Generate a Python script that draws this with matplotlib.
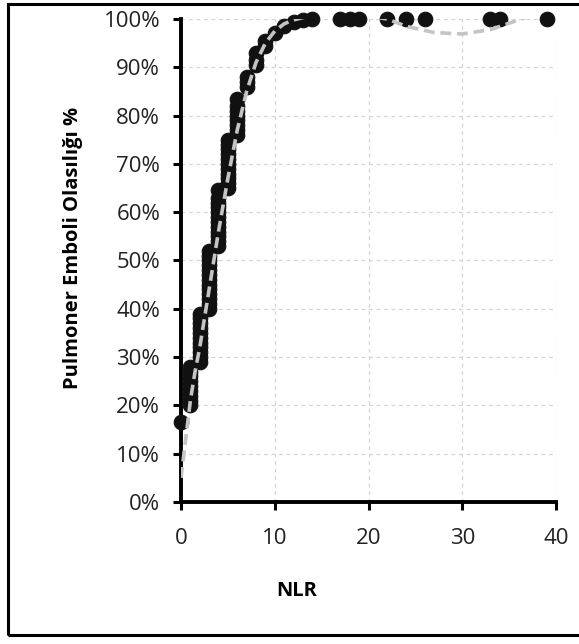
import matplotlib.pyplot as plt
from matplotlib.patches import Rectangle
from matplotlib.ticker import PercentFormatter

# NLR değerleri ve PE olasılıkları
nlr = ([0] + [1] * 9 + [2] * 11 + [3] * 13 + [4] * 12 + [5] * 11 + [6] * 8
       + [7] * 3 + [8] * 3 + [9] * 2 + [10, 11, 12, 13, 14]
       + [17, 18, 19, 22, 24, 26, 33, 34, 39])
prob = ([0.165]
        + [0.20, 0.21, 0.22, 0.23, 0.24, 0.25, 0.26, 0.27, 0.28]
        + [0.29, 0.30, 0.31, 0.32, 0.33, 0.34, 0.35, 0.36, 0.37, 0.38, 0.39]
        + [0.40, 0.41, 0.42, 0.43, 0.44, 0.45, 0.46, 0.47, 0.48, 0.49, 0.50,
           0.51, 0.52]
        + [0.53, 0.54, 0.55, 0.56, 0.57, 0.58, 0.59, 0.60, 0.61, 0.62, 0.63,
           0.645]
        + [0.65, 0.66, 0.67, 0.68, 0.69, 0.70, 0.71, 0.72, 0.73, 0.74, 0.75]
        + [0.76, 0.77, 0.78, 0.79, 0.80, 0.81, 0.82, 0.835]
        + [0.86, 0.87, 0.88]
        + [0.905, 0.915, 0.93]
        + [0.945, 0.955]
        + [0.97, 0.985, 0.993, 0.997, 1.0]
        + [1.0] * 9)

# trend çizgisi (grafikten okunan noktalar)
trend_x = [0, 0.5, 1, 1.5, 2, 3, 4, 5, 6, 7, 8, 9, 10, 11, 12, 13, 15, 18,
           21, 22, 24, 27, 30, 33, 36, 37, 38]
trend_y = [0.05, 0.13, 0.21, 0.27, 0.32, 0.44, 0.56, 0.67, 0.77, 0.85, 0.91,
           0.95, 0.975, 0.99, 0.998, 1.003, 1.01, 1.01, 1.003, 1.0, 0.985,
           0.972, 0.969, 0.978, 0.998, 1.005, 1.01]

x_ticks = [0, 10, 20, 30, 40]
y_ticks = [i / 10 for i in range(11)]

plt.rcParams['font.family'] = ['Open Sans', 'DejaVu Sans']

fig = plt.figure(figsize=(5.79, 6.44), dpi=100)
ax = fig.add_axes([0.3126, 0.2205, 0.6477, 0.75])

ax.plot(nlr, prob, ls='none', marker='o', ms=10.5, mfc='#111111',
        mec='#111111', mew=0.8, zorder=3, clip_on=False)
ax.plot(trend_x, trend_y, color='#c4c4c4', lw=2.6, dashes=(3, 1.6), zorder=4)

ax.set_xlim(0, 40)
ax.set_ylim(0, 1)
ax.set_xticks(x_ticks)
ax.set_yticks(y_ticks)
ax.yaxis.set_major_formatter(PercentFormatter(1.0, decimals=0))
ax.grid(True, color='#d4d4d4', lw=0.9, ls=(0, (3, 3)))
ax.set_axisbelow(True)

for side in ['top', 'right']:
    ax.spines[side].set_visible(False)
for side in ['left', 'bottom']:
    ax.spines[side].set_linewidth(2.8)
    ax.spines[side].set_color('black')

ax.tick_params(axis='both', direction='out', length=6, width=2.2,
               labelsize=16, colors='black', labelcolor='#222222')
ax.tick_params(axis='y', pad=9)
ax.tick_params(axis='x', pad=13)

fig.text(297 / 579, 1 - 591 / 644, 'NLR', ha='center', va='center',
         fontsize=14.5, fontweight='bold')
fig.text(73 / 579, 1 - 248 / 644, 'Pulmoner Emboli Olasılığı %',
         ha='center', va='center', rotation=90, fontsize=14.5,
         fontweight='bold')

fig.patches.append(Rectangle((8 / 579, 1 - 635 / 644), 1.2,
                             (635 - 3.5) / 644, transform=fig.transFigure,
                             fill=False, lw=2.2, ec='black'))

fig.savefig('out.png', dpi=100)
